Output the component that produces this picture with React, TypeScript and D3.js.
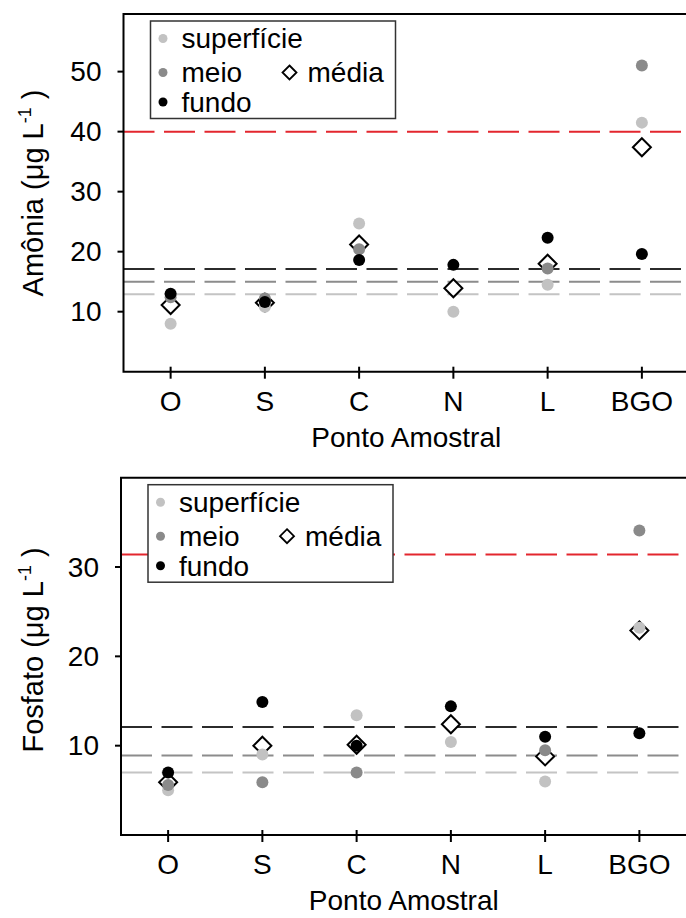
import React from 'react';
import * as d3 from 'd3';

const FONT = "'Liberation Sans', Arial, Helvetica, sans-serif";
const FS = 28;

// sampling points
const categories = ['O', 'S', 'C', 'N', 'L', 'BGO'];

// amônia (µg L-1)
const amoniaSup = [8.0, 10.8, 24.7, 10.0, 14.5, 41.5];
const amoniaMeio = [12.4, 12.2, 20.4, null, 17.2, 51.0];
const amoniaFundo = [13.0, 11.6, 18.6, 17.8, 22.3, 19.6];
const amoniaMedia = [11.1, 11.5, 21.2, 13.9, 18.0, 37.4];
const amoniaRefs = { limite: 40, fundo: 17.1, meio: 15.0, sup: 12.9 };
const amoniaTicks = [10, 20, 30, 40, 50];

// fosfato (µg L-1)
const fosfatoSup = [5.0, 9.0, 13.4, 10.4, 6.0, 23.2];
const fosfatoMeio = [5.6, 5.9, 7.0, null, 9.5, 34.1];
const fosfatoFundo = [7.0, 14.9, 10.0, 14.4, 11.0, 11.4];
const fosfatoMedia = [5.9, 10.0, 10.1, 12.4, 8.8, 22.9];
const fosfatoRefs = { limite: 31.4, fundo: 12.1, meio: 8.9, sup: 7.0 };
const fosfatoTicks = [10, 20, 30];

const COL_SUP = '#c2c2c2';
const COL_MEIO = '#8a8a8a';
const COL_FUNDO = '#000';

const diamond = (cx, cy, r) =>
  `M${cx},${cy - r}L${cx + r},${cy}L${cx},${cy + r}L${cx - r},${cy}Z`;

function Panel({ left, top, bottom, yMax, ticks, sup, meio, fundo, media, refs, label, labelY }) {
  const right = left + 565.5;
  const x = d3.scalePoint().domain(categories).range([left, right]).padding(0.5);
  const y = d3.scaleLinear().domain([0, yMax]).range([bottom, top]);

  const hline = (v, color, key) => (
    <line key={key} x1={left} x2={right} y1={y(v)} y2={y(v)}
      stroke={color} strokeWidth={2} strokeDasharray="31 9.5" />
  );

  const dots = (vals, color, key) =>
    vals.map((v, i) => v == null ? null : (
      <circle key={key + i} cx={x(categories[i])} cy={y(v)} r={6} fill={color} />
    ));

  const lx = left + 27;
  const ly = top + 7;

  return (
    <g fontFamily={FONT} fill="#000">
      {hline(refs.limite, '#e3262e', 'r')}
      {hline(refs.fundo, '#2b2b2b', 'f')}
      {hline(refs.meio, '#8c8c8c', 'm')}
      {hline(refs.sup, '#c4c4c4', 's')}

      {media.map((v, i) => (
        <path key={'d' + i} d={diamond(x(categories[i]), y(v), 9)}
          fill="#fff" stroke="#000" strokeWidth={2} />
      ))}
      {dots(sup, COL_SUP, 's')}
      {dots(meio, COL_MEIO, 'm')}
      {dots(fundo, COL_FUNDO, 'f')}

      {/* frame: right side runs off the page */}
      <path d={`M${right},${top}H${left}V${bottom}H${right}`} fill="none" stroke="#000" strokeWidth={2} />

      {ticks.map(t => (
        <g key={'y' + t}>
          <line x1={left - 6} x2={left} y1={y(t)} y2={y(t)} stroke="#000" strokeWidth={2} />
          <text x={left - 22} y={y(t)} dy="0.35em" textAnchor="end" fontSize={FS}>{t}</text>
        </g>
      ))}
      {categories.map(c => (
        <g key={'x' + c}>
          <line x1={x(c)} x2={x(c)} y1={bottom - 5} y2={bottom + 7} stroke="#000" strokeWidth={2} />
          <text x={x(c)} y={bottom + 29} dy="0.35em" textAnchor="middle" fontSize={FS}>{c}</text>
        </g>
      ))}
      <text x={(left + right) / 2} y={bottom + 65} dy="0.35em" textAnchor="middle" fontSize={FS}>Ponto Amostral</text>

      <text transform={`translate(43,${labelY}) rotate(-90)`} textAnchor="middle" fontSize={29}>
        {label} (μg L<tspan dy={-12} fontSize={18}>-1</tspan><tspan dy={12} dx={8}>)</tspan>
      </text>

      {/* legend */}
      <rect x={lx} y={ly} width={245} height={97.5} fill="#fff" stroke="#333" strokeWidth={1.5} />
      <circle cx={lx + 12.5} cy={ly + 17.5} r={4.5} fill={COL_SUP} />
      <circle cx={lx + 12.5} cy={ly + 51.5} r={4.5} fill={COL_MEIO} />
      <circle cx={lx + 12.5} cy={ly + 81} r={4.5} fill={COL_FUNDO} />
      <text x={lx + 31} y={ly + 17.5} dy="0.35em" fontSize={FS}>superfície</text>
      <text x={lx + 31} y={ly + 51.5} dy="0.35em" fontSize={FS}>meio</text>
      <text x={lx + 31} y={ly + 81} dy="0.35em" fontSize={FS}>fundo</text>
      <path d={diamond(lx + 139, ly + 51.5, 7)} fill="none" stroke="#000" strokeWidth={1.8} />
      <text x={lx + 157} y={ly + 51.5} dy="0.35em" fontSize={FS}>média</text>
    </g>
  );
}

export default function App() {
  return (
    <svg width={686} height={918} style={{ position: 'absolute', left: 0, top: 0, background: '#fff' }}>
      <rect width={686} height={918} fill="#fff" />
      <Panel left={123.5} top={14} bottom={371.7} yMax={59.6} ticks={amoniaTicks}
        sup={amoniaSup} meio={amoniaMeio} fundo={amoniaFundo} media={amoniaMedia}
        refs={amoniaRefs} label="Amônia" labelY={193} />
      <Panel left={121} top={477.7} bottom={835} yMax={40} ticks={fosfatoTicks}
        sup={fosfatoSup} meio={fosfatoMeio} fundo={fosfatoFundo} media={fosfatoMedia}
        refs={fosfatoRefs} label="Fosfato" labelY={650} />
    </svg>
  );
}
